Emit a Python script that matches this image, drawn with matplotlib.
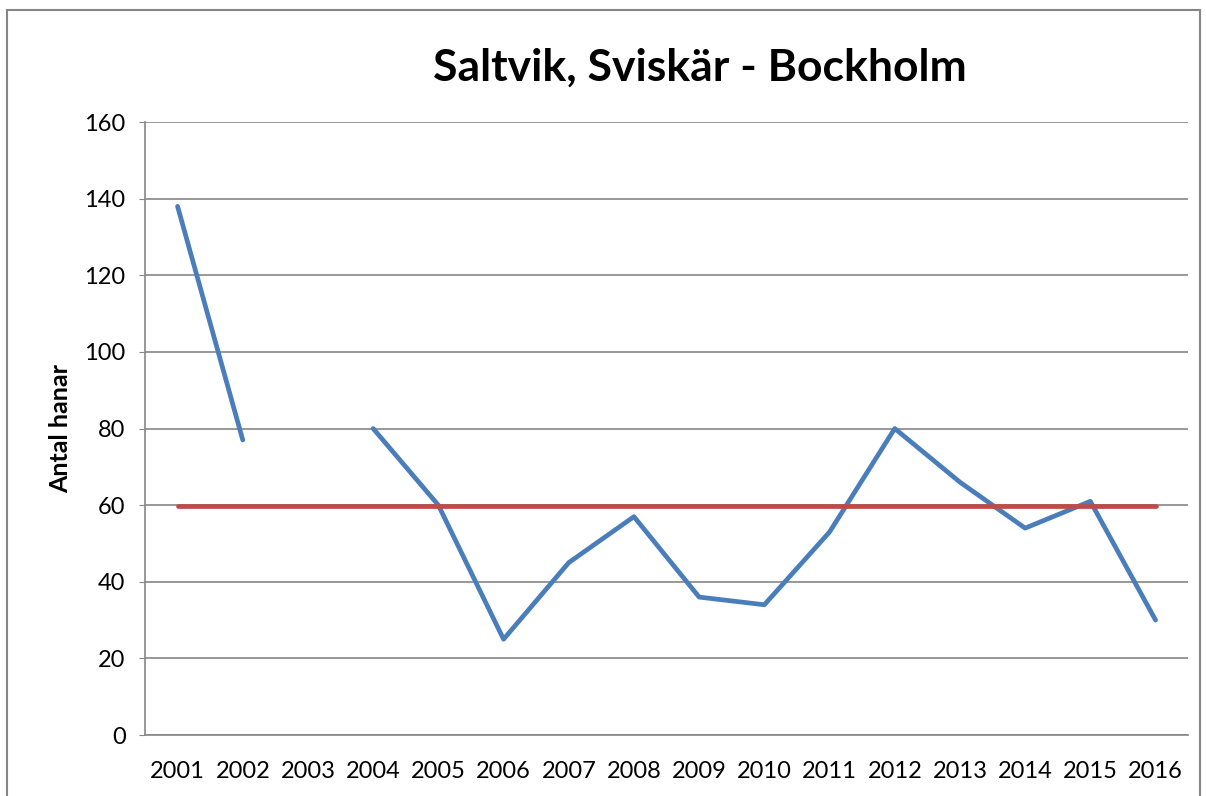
import numpy as np
import matplotlib
matplotlib.use("Agg")
import matplotlib.pyplot as plt
from matplotlib.patches import Rectangle

plt.rcParams["font.family"] = ["Lato", "DejaVu Sans"]

years = ["2001", "2002", "2003", "2004", "2005", "2006", "2007", "2008",
         "2009", "2010", "2011", "2012", "2013", "2014", "2015", "2016"]
hanar = [138, 77, np.nan, 80, 60, 25, 45, 57, 36, 34, 53, 80, 66, 54, 61, 30]
medel = 59.7
yticks = [0, 20, 40, 60, 80, 100, 120, 140, 160]

fig = plt.figure(figsize=(12.06, 7.96), dpi=100)
ax = fig.add_axes([0.1202, 0.0766, 0.8650, 0.7701])

x = np.arange(len(years))
ax.plot(x, hanar, color="#4A7EBB", lw=3.4, solid_capstyle="round",
        solid_joinstyle="round", zorder=3)
ax.plot(x, [medel] * len(years), color="#BE4B48", lw=3.4,
        solid_capstyle="round", zorder=4)

ax.set_xlim(-0.5, len(years) - 0.5)
ax.set_ylim(0, 160)
ax.set_yticks(yticks)
ax.set_xticks(x)
ax.set_xticklabels(years)
ax.grid(axis="y", color="#868686", lw=1.2)
ax.set_axisbelow(True)
for s in ["top", "right"]:
    ax.spines[s].set_visible(False)
for s in ["left", "bottom"]:
    ax.spines[s].set_color("#868686")
    ax.spines[s].set_linewidth(1.2)
ax.tick_params(axis="y", length=4, color="#868686", labelsize=17, pad=10)
ax.tick_params(axis="x", length=0, labelsize=17, pad=19)
ax.set_ylabel("Antal hanar", fontsize=18, fontweight="bold", labelpad=9)

fig.text(0.58, 0.9146, "Saltvik, Sviskär - Bockholm", ha="center",
         va="center", fontsize=32, fontweight="bold")

fig.patches.append(Rectangle((7 / 1206, -0.05), 1193 / 1206, 1.05 - 10 / 796,
                             transform=fig.transFigure, fill=False,
                             edgecolor="#868686", lw=1.5))

fig.savefig("out.png", dpi=100)
